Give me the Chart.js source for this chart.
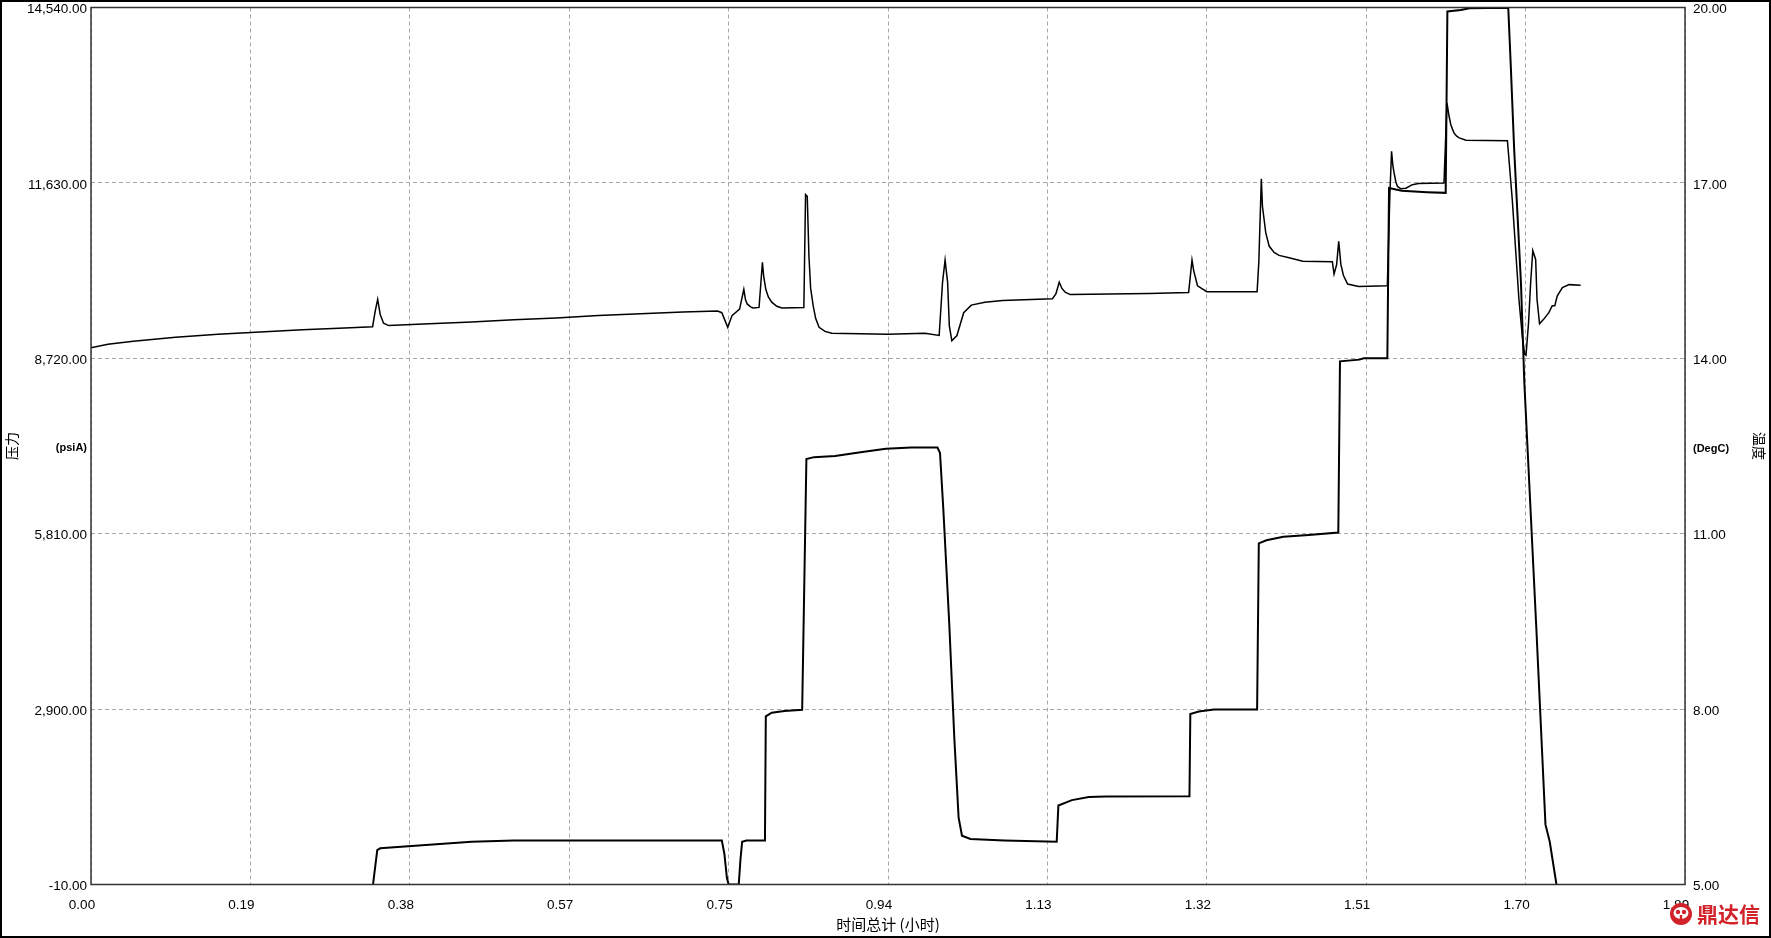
<!DOCTYPE html>
<html>
<head>
<meta charset="utf-8">
<script src="https://cdn.jsdelivr.net/npm/chart.js@4.4.1/dist/chart.umd.min.js"></script>
<style>
html,body{margin:0;padding:0;background:#fff;}
canvas{display:block;}
</style>
</head>
<body>
<canvas id="c" width="1771" height="938"></canvas>
<script>
// ---- axis ticks ----
const xTickValues = [0, 0.1885, 0.377, 0.5655, 0.754, 0.9425, 1.131, 1.3195, 1.508, 1.6965, 1.885];
const xTickLabels = ['0.00','0.19','0.38','0.57','0.75','0.94','1.13','1.32','1.51','1.70','1.89'];
const pressureTickValues = [-10, 2900, 5810, 8720, 11630, 14540];
const pressureTickLabels = ['-10.00','2,900.00','5,810.00','8,720.00','11,630.00','14,540.00'];
const tempTickValues = [5, 8, 11, 14, 17, 20];
const tempTickLabels = ['5.00','8.00','11.00','14.00','17.00','20.00'];

// ---- texts ----
const xTitle = '时间总计 (小时)';
const pressureTitle = '压力';
const pressureUnit = '(psiA)';
const tempTitle = '温度';
const tempUnit = '(DegC)';
const logoText = '鼎达信';

// ---- series: pressure (psiA) vs time (h) ----
const pressureTime = [0.3335,0.3385,0.342,0.40,0.45,0.50,0.60,0.70,0.746,0.749,0.752,0.754,0.766,0.768,0.770,0.775,0.797,0.798,0.805,0.820,0.841,0.846,0.855,0.880,0.910,0.940,0.970,1.001,1.004,1.008,1.015,1.021,1.026,1.030,1.040,1.080,1.142,1.144,1.160,1.180,1.200,1.299,1.300,1.310,1.328,1.379,1.381,1.390,1.410,1.440,1.475,1.477,1.500,1.505,1.533,1.535,1.550,1.560,1.580,1.602,1.604,1.620,1.630,1.676,1.679,1.683,1.687,1.691,1.695,1.709,1.720,1.725,1.733];
const pressureValues = [-10,560,590,650,700,718,721,721,721,500,100,-10,-10,400,700,721,722,2780,2840,2870,2890,7050,7080,7100,7160,7220,7240,7240,7150,6200,4300,2400,1100,800,745,720,700,1300,1390,1440,1450,1455,2818,2860,2893,2895,5650,5700,5760,5790,5830,8670,8698,8720,8720,11547,11500,11490,11475,11465,14474,14500,14529,14535,13563,12182,11078,9973,8317,4300,983,703,-10];

// ---- series: temperature (DegC) vs time (h) ----
const tempTime = [0,0.02,0.05,0.10,0.15,0.20,0.25,0.30,0.333,0.336,
  0.339,0.342,0.346,0.352,0.40,0.45,0.50,0.55,0.60,0.65,
  0.70,0.741,0.746,0.753,0.758,0.767,0.772,0.774,0.776,0.780,
  0.783,0.790,0.794,0.7955,0.798,0.801,0.805,0.811,0.817,0.843,
  0.845,0.847,0.849,0.851,0.854,0.857,0.861,0.868,0.876,0.9425,
  0.986,1.003,1.007,1.010,1.013,1.015,1.018,1.024,1.032,1.041,
  1.057,1.078,1.137,1.141,1.145,1.148,1.152,1.158,1.251,1.298,
  1.300,1.302,1.304,1.3085,1.3195,1.379,1.381,1.384,1.3853,1.3873,
  1.3892,1.3932,1.3991,1.405,1.4168,1.433,1.468,1.470,1.473,1.4755,
  1.478,1.481,1.486,1.499,1.533,1.536,1.538,1.5395,1.541,1.543,
  1.545,1.549,1.555,1.5625,1.570,1.600,1.6035,1.606,1.608,1.610,
  1.612,1.615,1.618,1.626,1.675,1.6807,1.6847,1.6886,1.6926,1.6953,
  1.697,1.700,1.7025,1.705,1.7084,1.710,1.713,1.718,1.724,1.728,
  1.731,1.734,1.740,1.748,1.7616];
const tempValues = [14.18,14.24,14.29,14.36,14.41,14.45,14.49,14.52,14.54,14.80,
  15.01,14.75,14.60,14.56,14.59,14.62,14.66,14.69,14.73,14.76,
  14.79,14.81,14.78,14.53,14.73,14.84,15.18,15.00,14.93,14.88,
  14.86,14.87,15.64,15.40,15.18,15.05,14.96,14.89,14.86,14.87,
  16.80,16.77,15.75,15.20,14.90,14.68,14.53,14.46,14.43,14.41,
  14.43,14.39,15.30,15.68,15.30,14.56,14.30,14.39,14.78,14.91,
  14.96,14.99,15.02,15.10,15.30,15.20,15.13,15.09,15.11,15.125,
  15.40,15.68,15.50,15.24,15.14,15.14,15.64,17.07,16.60,16.37,
  16.15,15.92,15.81,15.76,15.72,15.66,15.65,15.44,15.60,16.00,
  15.61,15.42,15.27,15.23,15.24,16.80,17.54,17.30,17.17,17.02,
  16.94,16.90,16.91,16.97,16.99,17.00,18.37,18.14,18.00,17.92,
  17.85,17.80,17.77,17.73,17.72,16.72,15.86,15.01,14.38,14.07,
  14.05,14.61,15.30,15.84,15.69,15.01,14.59,14.67,14.78,14.90,
  14.90,15.07,15.21,15.26,15.25];

const pressurePoints = pressureTime.map((t, i) => ({x: t, y: pressureValues[i]}));
const tempPoints = tempTime.map((t, i) => ({x: t, y: tempValues[i]}));

const LATIN = '"Liberation Sans", Arial, sans-serif';
const CJK = '"Noto Sans CJK SC", sans-serif';
const tickFont = {family: LATIN, size: 13.5};

const framePlugin = {
  id: 'frame',
  beforeDraw(c) {
    const g = c.ctx;
    g.save();
    g.fillStyle = '#fff';
    g.fillRect(0, 0, c.width, c.height);
    g.restore();
  },
  afterDraw(c) {
    const g = c.ctx, a = c.chartArea;
    g.save();
    // plot box
    g.strokeStyle = '#333';
    g.lineWidth = 1.5;
    g.strokeRect(a.left, a.top, a.right - a.left, a.bottom - a.top);
    // outer frame
    g.strokeStyle = '#000';
    g.lineWidth = 2;
    g.strokeRect(1, 1, c.width - 2, c.height - 2);
    // units
    g.fillStyle = '#000';
    g.font = 'bold 11px ' + LATIN;
    g.textBaseline = 'middle';
    g.textAlign = 'right';
    g.fillText(pressureUnit, a.left - 4, (a.top + a.bottom) / 2 + 2);
    g.textAlign = 'left';
    g.fillText(tempUnit, a.right + 8, (a.top + a.bottom) / 2 + 3);
    // watermark logo
    const red = '#d2232a';
    const cx = a.right - 4, cy = c.height - 24;
    g.fillStyle = red;
    g.beginPath(); g.arc(cx, cy, 11, 0, Math.PI * 2); g.fill();
    g.fillStyle = '#fff';
    g.beginPath(); g.ellipse(cx, cy - 1, 7.5, 6, 0, 0, Math.PI * 2); g.fill();
    g.fillStyle = red;
    g.beginPath(); g.arc(cx - 3, cy - 2, 2.2, 0, Math.PI * 2); g.fill();
    g.beginPath(); g.arc(cx + 3, cy - 2, 2.2, 0, Math.PI * 2); g.fill();
    g.fillRect(cx - 1.2, cy + 1, 2.4, 6);
    g.font = 'bold 21px ' + CJK;
    g.textAlign = 'left';
    g.textBaseline = 'middle';
    g.fillText(logoText, cx + 16, cy);
    g.restore();
  }
};

new Chart(document.getElementById('c'), {
  type: 'line',
  data: {
    datasets: [
      {label: pressureTitle, data: pressurePoints, yAxisID: 'yP', borderColor: '#000', borderWidth: 2,
       pointRadius: 0, tension: 0, fill: false},
      {label: tempTitle, data: tempPoints, yAxisID: 'yT', borderColor: '#000', borderWidth: 1.5,
       pointRadius: 0, tension: 0, fill: false}
    ]
  },
  options: {
    responsive: false,
    animation: false,
    devicePixelRatio: 1,
    layout: {padding: 0},
    plugins: {legend: {display: false}, tooltip: {enabled: false}},
    scales: {
      x: {
        type: 'linear', position: 'bottom', min: 0, max: 1.885,
        afterBuildTicks: s => { s.ticks = xTickValues.map(v => ({value: v})); },
        afterFit: s => { s.height = 53.5; s.paddingLeft = 0; s.paddingRight = 0; },
        ticks: {callback: (v, i) => xTickLabels[i], font: tickFont, color: '#000', padding: 13,
                labelOffset: -9, maxRotation: 0, autoSkip: false},
        grid: {color: '#a8a8a8', lineWidth: 1, drawTicks: false},
        border: {display: false, dash: [4, 3]},
        title: {display: true, text: xTitle, font: {family: CJK, size: 15}, color: '#000',
                padding: {top: 0, bottom: 5}}
      },
      yP: {
        type: 'linear', position: 'left', min: -10, max: 14540,
        afterBuildTicks: s => { s.ticks = pressureTickValues.map(v => ({value: v})); },
        afterFit: s => { s.width = 91; s.paddingTop = 7.5; s.paddingBottom = 0; },
        ticks: {callback: (v, i) => pressureTickLabels[i], font: tickFont, color: '#000', padding: 4,
                labelOffset: 2, autoSkip: false},
        grid: {color: '#a8a8a8', lineWidth: 1, drawTicks: false},
        border: {display: false, dash: [4, 3]},
        title: {display: true, text: pressureTitle, font: {family: CJK, size: 14}, color: '#000',
                padding: {top: 3.6, bottom: 0}}
      },
      yT: {
        type: 'linear', position: 'right', min: 5, max: 20,
        afterBuildTicks: s => { s.ticks = tempTickValues.map(v => ({value: v})); },
        afterFit: s => { s.width = 86; s.paddingTop = 7.5; s.paddingBottom = 0; },
        ticks: {callback: (v, i) => tempTickLabels[i], font: tickFont, color: '#000', padding: 8,
                labelOffset: 2, autoSkip: false},
        grid: {drawOnChartArea: false, drawTicks: false},
        border: {display: false},
        title: {display: true, text: tempTitle, font: {family: CJK, size: 14}, color: '#000',
                padding: {top: 3.6, bottom: 0}}
      }
    }
  },
  plugins: [framePlugin]
});
</script>
</body>
</html>
